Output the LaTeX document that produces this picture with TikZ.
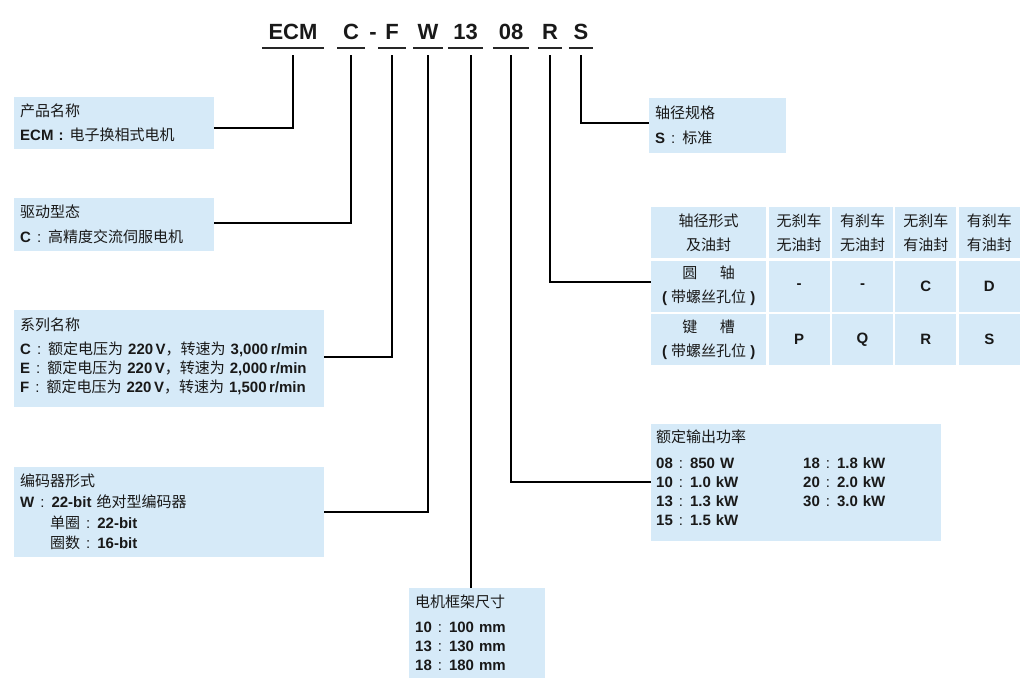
\documentclass[tikz,border=0pt]{standalone}
\usepackage{fontspec}
\setmainfont{Liberation Sans}
\newfontfamily\cjk{Noto Sans CJK SC}
\newcommand{\zh}[1]{{\cjk\mdseries #1}}
\newcommand{\kolon}{\hspace{6pt}{\mdseries :}\hspace{7pt}}
\usepackage{tikz}
\usetikzlibrary{positioning}
\definecolor{boxblue}{RGB}{214,234,248}
\definecolor{ink}{RGB}{25,25,25}
\tikzstyle{box} = [rectangle, fill=boxblue, inner xsep=6pt, inner ysep=0pt, align=left, anchor=north west, text=ink, font=\fontsize{15}{19}\selectfont\bfseries]
\tikzstyle{code} = [inner sep=0pt, minimum height=32pt, text height=16pt, text depth=0pt, text=ink, font=\fontsize{22}{22}\selectfont\bfseries]
\tikzstyle{cell} = [rectangle, fill=boxblue, inner sep=0pt, align=center, minimum width=61pt, minimum height=51pt, text=ink, font=\fontsize{15}{24}\selectfont\bfseries]
\tikzstyle{uline} = [line width=1.5pt, black!85]
\tikzstyle{link} = [line width=2pt, black]

\begin{document}
\begin{tikzpicture}[x=1pt, y=-1pt]
\useasboundingbox (0,0) rectangle (1030,700);

\node (cECM) [code, minimum width=62pt] at (293,32) {ECM};
\node (cC) [code, minimum width=27pt] at (351,32) {C};
\node (cdash) [code] at (373,32) {-};
\node (cF) [code, minimum width=27pt] at (392,32) {F};
\node (cW) [code, minimum width=29pt] at (428,32) {W};
\node (c13) [code, minimum width=35pt] at (465.5,32) {13};
\node (c08) [code, minimum width=36pt] at (511,32) {08};
\node (cR) [code, minimum width=24pt] at (550,32) {R};
\node (cS) [code, minimum width=24pt] at (581,32) {S};
\foreach \c in {cECM,cC,cF,cW,c13,c08,cR,cS}
    \draw [uline] (\c.south west) -- (\c.south east);

\node (b1) [box, text width=188pt, minimum height=52pt] at (14,97)
    {\zh{产品名称}\\[5pt]ECM\hspace{5pt}:\hspace{6pt}\zh{电子换相式电机}};
\node (b2) [box, text width=188pt, minimum height=53pt] at (14,198)
    {\zh{驱动型态}\\[6pt]C\kolon\zh{高精度交流伺服电机}};
\node (b3) [box, text width=298pt, minimum height=97pt] at (14,310)
    {\zh{系列名称}\\[5pt]
     C\kolon\zh{额定电压为} 220\,V\zh{，转速为} 3,000\,r/min\\
     E\kolon\zh{额定电压为} 220\,V\zh{，转速为} 2,000\,r/min\\
     F\kolon\zh{额定电压为} 220\,V\zh{，转速为} 1,500\,r/min\rule[-7pt]{0pt}{7pt}};
\node (b4) [box, text width=298pt, minimum height=90pt] at (14,467)
    {\zh{编码器形式}\\[2pt]
     W\kolon 22-bit \zh{绝对型编码器}\\[2pt]
     \hspace*{30pt}\zh{单圈}\kolon 22-bit\\[1pt]
     \hspace*{30pt}\zh{圈数}\kolon 16-bit};
\node (b5) [box, text width=124pt, minimum height=90pt] at (409,588)
    {\zh{电机框架尺寸}\\[6pt]
     10\kolon 100~mm\\
     13\kolon 130~mm\\
     18\kolon 180~mm};
\node (b6) [box, text width=125pt, minimum height=55pt] at (649,98)
    {\zh{轴径规格}\\[6pt]S\kolon\zh{标准}};
\node (b7) [box, text width=280pt, minimum height=117pt, inner xsep=5pt] at (651,424)
    {\zh{额定输出功率}\\[7pt]
     \makebox[147pt][l]{08\kolon 850~W}18\kolon 1.8~kW\\
     \makebox[147pt][l]{10\kolon 1.0~kW}20\kolon 2.0~kW\\
     \makebox[147pt][l]{13\kolon 1.3~kW}30\kolon 3.0~kW\\
     15\kolon 1.5~kW\rule[-10pt]{0pt}{10pt}};

\node (h0) [cell, minimum width=115pt, anchor=north west] at (651,207) {\zh{轴径形式}\\\zh{及油封}};
\node (h1) [cell, right=2pt of h0] {\zh{无刹车}\\\zh{无油封}};
\node (h2) [cell, right=2pt of h1] {\zh{有刹车}\\\zh{无油封}};
\node (h3) [cell, right=2pt of h2] {\zh{无刹车}\\\zh{有油封}};
\node (h4) [cell, right=2pt of h3] {\zh{有刹车}\\\zh{有油封}};
\node (a0) [cell, minimum width=115pt, below=2pt of h0] {\zh{圆}\hspace{1.5em}\zh{轴}\\(~\zh{带螺丝孔位}~)};
\node (a1) [cell, right=2pt of a0] {-};
\node (a2) [cell, right=2pt of a1] {-};
\node (a3) [cell, right=2pt of a2] {C};
\node (a4) [cell, right=2pt of a3] {D};
\node (k0) [cell, minimum width=115pt, below=2pt of a0] {\zh{键}\hspace{1.5em}\zh{槽}\\(~\zh{带螺丝孔位}~)};
\node (k1) [cell, right=2pt of k0] {P};
\node (k2) [cell, right=2pt of k1] {Q};
\node (k3) [cell, right=2pt of k2] {R};
\node (k4) [cell, right=2pt of k3] {S};

\coordinate (t13) at ([xshift=5.5pt]c13.south);
\draw [link] ([yshift=-7pt]cECM.south) |- ([yshift=-5pt]b1.east);
\draw [link] ([yshift=-7pt]cC.south) |- ([yshift=1.5pt]b2.east);
\draw [link] ([yshift=-7pt]cF.south) |- ([yshift=1.5pt]b3.east);
\draw [link] ([yshift=-7pt]cW.south) |- (b4.east);
\draw [link] ([yshift=-7pt]t13) -- (t13 |- b5.north);
\draw [link] ([yshift=-7pt]c08.south) |- ([yshift=0.5pt]b7.west);
\draw [link] ([yshift=-7pt]cR.south) |- ([yshift=4.5pt]a0.west);
\draw [link] ([yshift=-7pt]cS.south) |- ([yshift=2.5pt]b6.west);
\end{tikzpicture}
\end{document}
